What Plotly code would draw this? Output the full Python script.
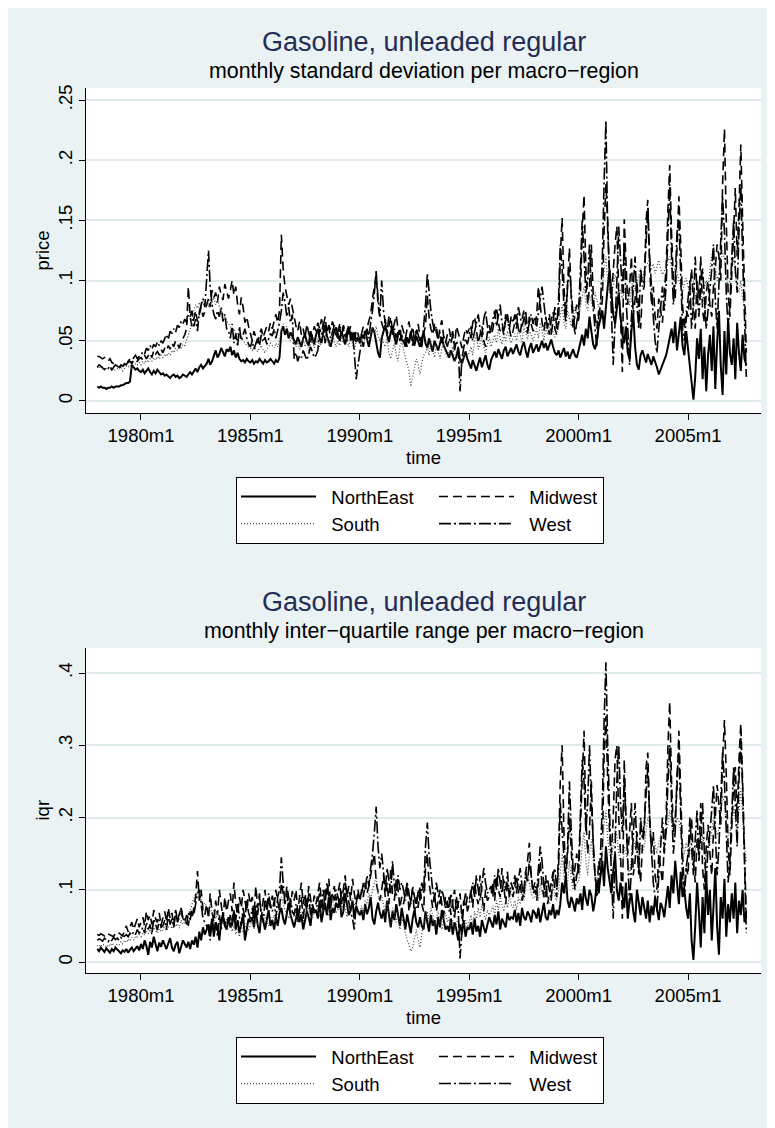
import pandas as pd
import plotly.graph_objects as go

# ---------------- data (monthly, 1978m1 .. 2007m9), values in thousandths ----------------
months = pd.date_range("1978-01-01", "2007-09-01", freq="MS")

x_tick_dates = ["1980-01-01", "1985-01-01", "1990-01-01", "1995-01-01", "2000-01-01", "2005-01-01"]
x_tick_labels = ["1980m1", "1985m1", "1990m1", "1995m1", "2000m1", "2005m1"]
sd_tick_vals = [0, 0.05, 0.10, 0.15, 0.20, 0.25]
sd_tick_labels = ["0", ".05", ".1", ".15", ".2", ".25"]
iqr_tick_vals = [0, 0.1, 0.2, 0.3, 0.4]
iqr_tick_labels = ["0", ".1", ".2", ".3", ".4"]

regions = ["NorthEast", "Midwest", "South", "West"]

sd_northeast = [
    12,11,12,11,11,10,11,11,12,11,12,12,
    12,13,13,14,15,15,16,30,28,26,27,25,
    24,26,23,25,27,24,22,25,23,26,24,22,
    23,21,22,20,19,21,22,20,21,19,20,22,
    21,20,22,24,22,25,27,24,28,30,27,29,
    31,35,30,33,38,42,36,39,44,40,37,43,
    41,45,38,42,36,40,35,33,34,32,35,33,
    32,34,31,33,32,35,33,31,34,32,33,35,
    33,31,34,32,36,58,62,55,60,52,57,54,
    50,47,53,48,45,52,55,49,46,58,51,47,
    55,60,52,48,57,63,54,50,45,52,58,61,
    55,50,58,52,47,54,60,56,51,57,49,53,
    48,55,52,58,50,45,53,61,57,47,40,36,
    52,58,63,55,49,57,61,53,47,55,59,51,
    50,45,53,48,56,51,46,54,49,45,52,57,
    48,44,52,47,41,50,45,42,48,53,46,43,
    40,36,42,38,33,37,44,34,31,36,41,35,
    30,27,34,29,25,31,36,28,33,38,30,26,
    34,38,41,36,43,39,35,42,45,37,40,44,
    39,43,47,41,38,45,49,42,36,44,48,40,
    43,47,41,45,50,44,48,42,46,51,45,40,
    38,42,36,40,44,37,41,35,39,43,38,36,
    42,48,55,46,60,52,70,58,47,43,50,62,
    68,75,60,82,95,109,88,72,64,78,90,70,
    55,48,62,40,35,58,73,45,30,26,38,42,
    36,32,39,34,30,37,33,28,22,26,31,35,
    38,45,52,60,48,66,42,55,70,46,38,58,
    44,30,12,1,20,52,35,60,18,45,8,38,
    55,25,62,10,48,75,30,5,58,22,68,40,
    30,52,18,65,40,25,55,35,30,
]

sd_midwest = [
    37,37,36,35,36,34,33,35,32,31,30,29,
    28,30,29,31,30,32,33,31,34,32,33,35,
    36,34,38,35,37,40,36,42,39,41,38,43,
    40,44,42,46,43,48,45,50,47,44,49,52,
    55,60,95,70,62,68,75,66,72,78,70,74,
    80,85,78,92,86,90,82,95,88,84,97,91,
    85,92,100,88,95,80,72,86,78,65,70,62,
    55,50,58,52,48,55,60,53,57,62,58,65,
    60,68,72,65,75,138,110,95,88,80,85,76,
    70,62,58,66,55,60,52,64,57,49,55,62,
    58,65,60,68,62,70,57,63,59,66,61,55,
    52,60,55,63,58,50,57,62,54,48,59,56,
    50,58,62,55,60,67,72,85,95,105,80,70,
    65,60,68,55,62,70,58,64,71,60,55,63,
    58,52,60,66,55,62,50,57,64,53,48,56,
    62,88,70,60,55,64,58,50,61,67,53,48,
    55,60,52,58,45,62,57,50,44,53,60,56,
    60,52,65,70,58,48,55,62,50,45,57,63,
    55,60,70,78,65,58,62,55,68,72,60,53,
    58,65,72,60,55,68,75,62,56,70,64,58,
    60,72,95,80,65,58,70,62,55,67,74,60,
    55,65,120,152,95,70,100,127,85,60,72,80,
    65,90,140,171,110,80,95,130,88,70,60,75,
    68,85,140,180,150,100,85,110,130,145,90,70,
    24,151,110,80,95,120,70,85,100,75,60,90,
    95,150,167,110,80,95,70,60,85,75,65,90,
    110,160,196,140,100,85,120,170,130,80,60,75,
    70,95,110,80,60,100,85,120,75,65,90,100,
    80,70,95,110,130,120,100,180,226,150,90,70,
    100,140,177,120,160,213,150,90,40,
]

sd_south = [
    28,27,29,28,26,27,28,26,27,25,26,27,
    26,28,25,27,29,28,30,27,29,31,30,32,
    30,33,31,34,32,35,33,36,34,37,35,38,
    36,39,37,40,38,42,40,44,42,45,43,47,
    46,50,55,60,68,75,80,77,82,78,85,80,
    83,78,85,82,86,80,84,78,75,72,70,66,
    64,62,58,60,55,57,52,54,50,48,46,45,
    44,42,45,43,41,44,46,42,40,43,45,48,
    46,44,48,45,50,60,64,58,62,55,50,53,
    48,45,50,43,47,52,45,49,42,46,51,44,
    47,52,45,50,55,48,53,46,51,57,49,45,
    50,46,52,48,55,50,45,53,48,42,50,55,
    48,52,46,55,50,58,53,60,56,62,54,50,
    55,48,45,52,40,35,42,48,38,33,45,50,
    42,36,30,25,12,20,28,35,30,22,32,38,
    40,45,38,50,42,36,46,40,35,43,48,40,
    36,42,38,45,33,40,44,37,30,35,42,38,
    40,45,38,50,55,43,48,52,45,40,47,53,
    45,50,55,48,60,52,47,55,50,58,53,48,
    52,56,50,60,55,48,62,57,51,59,54,50,
    55,60,52,65,58,50,62,55,60,68,57,53,
    56,62,70,80,65,60,75,68,62,70,78,72,
    70,78,85,95,80,75,88,82,76,90,84,78,
    82,95,110,120,100,90,85,95,105,98,88,92,
    85,90,95,88,80,95,100,92,98,105,110,100,
    108,112,115,118,110,114,106,112,117,110,105,108,
    112,115,120,110,105,112,108,100,95,90,98,102,
    95,88,92,100,85,90,98,88,80,95,100,92,
    110,120,128,115,100,105,112,125,118,105,95,100,
    110,120,105,95,90,100,85,80,70,
]

sd_west = [
    28,30,29,27,26,28,27,29,26,28,30,29,
    27,29,28,31,30,33,35,32,36,38,35,37,
    38,41,39,44,42,46,43,47,45,49,46,50,
    48,52,55,51,58,56,60,57,63,61,66,64,
    68,65,72,70,75,62,68,58,74,80,85,78,
    100,125,95,80,72,68,75,70,78,66,72,60,
    58,52,64,48,56,45,62,50,55,60,52,47,
    45,50,43,48,52,46,55,49,53,47,51,56,
    54,60,52,58,65,75,90,82,70,78,65,72,
    35,40,33,38,36,42,37,34,39,45,41,36,
    38,42,60,55,65,48,58,62,52,57,63,55,
    58,64,55,60,52,58,63,50,56,40,18,30,
    42,50,45,55,60,52,65,75,90,108,85,70,
    100,75,65,58,70,62,55,60,52,58,50,55,
    48,52,45,50,58,46,53,60,55,49,44,62,
    80,106,90,75,65,58,62,52,57,48,54,50,
    45,52,48,55,42,50,46,8,35,44,52,47,
    55,62,50,58,66,72,60,53,68,75,62,55,
    60,68,75,62,70,80,65,58,72,66,60,70,
    65,72,60,78,70,62,68,75,58,66,72,64,
    70,62,75,85,95,80,68,60,72,55,65,78,
    60,85,130,110,80,65,95,110,90,70,55,65,
    75,110,150,120,90,100,130,95,75,60,45,70,
    80,120,180,233,140,110,75,30,60,100,145,120,
    90,130,85,60,30,70,100,120,80,60,110,95,
    100,130,160,120,90,70,50,40,60,80,95,75,
    95,140,180,120,80,100,140,150,95,60,50,70,
    85,100,60,80,120,90,70,95,110,85,60,75,
    90,110,130,85,60,100,128,170,140,90,60,80,
    120,150,110,90,140,180,120,60,20,
]

iqr_northeast = [
    18,15,20,17,14,19,16,13,18,15,20,17,
    15,12,16,14,18,13,17,20,15,19,22,16,
    25,18,30,22,10,28,20,35,24,15,27,21,
    30,22,18,26,33,20,15,24,28,12,22,30,
    25,20,28,18,30,24,35,20,42,30,48,38,
    45,52,40,60,35,55,48,30,58,65,50,45,
    62,48,55,70,45,58,40,52,66,30,48,60,
    55,62,48,70,52,40,65,58,45,60,72,50,
    58,45,62,50,68,75,60,52,70,82,65,55,
    48,60,72,55,66,45,58,70,62,50,75,68,
    72,60,85,55,70,80,65,90,58,75,68,82,
    75,88,62,70,95,80,65,72,85,60,78,70,
    65,72,58,80,66,75,90,60,52,70,82,68,
    60,72,55,85,65,48,70,58,80,62,50,75,
    58,45,66,52,40,60,72,55,48,62,50,45,
    70,55,42,65,50,58,38,62,48,72,55,45,
    50,42,60,38,55,45,30,52,40,58,35,48,
    45,55,38,60,42,50,35,58,48,40,52,62,
    55,48,65,52,70,45,60,55,48,68,58,62,
    60,72,55,68,50,75,62,58,70,65,55,72,
    68,60,75,55,70,82,62,58,72,65,80,60,
    72,65,80,110,95,120,85,75,90,82,70,88,
    80,95,72,105,88,78,100,92,70,85,110,95,
    120,140,105,160,130,115,95,125,150,100,85,110,
    90,75,110,60,85,95,70,55,100,80,65,90,
    72,60,85,55,78,65,90,70,58,82,75,62,
    88,105,75,120,95,140,110,80,125,90,100,75,
    60,95,30,3,50,110,70,20,90,40,120,65,
    100,30,75,130,50,10,90,60,115,35,80,55,
    95,60,110,40,85,65,100,55,70,
]

iqr_midwest = [
    38,37,39,38,36,40,39,38,37,35,40,42,
    40,38,36,44,50,42,48,55,45,52,60,48,
    55,62,50,70,58,65,52,72,60,55,68,50,
    62,70,55,75,60,68,50,72,58,66,75,60,
    55,65,50,70,60,75,90,126,85,100,72,65,
    80,60,95,70,55,85,65,100,75,60,90,70,
    85,95,70,110,80,65,90,75,100,85,70,95,
    80,90,65,105,75,95,60,85,100,70,88,75,
    92,78,100,85,70,110,95,80,105,90,75,98,
    85,100,70,90,110,80,95,75,105,88,70,92,
    80,95,110,85,70,100,90,115,80,95,105,85,
    95,110,80,100,120,90,105,85,115,95,80,100,
    85,100,90,110,95,105,120,140,150,110,95,85,
    100,120,90,110,80,130,95,85,115,100,75,90,
    80,95,110,70,85,100,65,90,75,105,80,70,
    130,150,110,90,75,95,70,85,100,80,65,90,
    75,90,65,85,100,70,80,95,60,85,75,90,
    85,100,75,110,90,80,120,95,70,100,85,90,
    95,110,85,120,100,90,130,105,80,110,95,100,
    90,105,120,95,110,85,100,125,140,165,120,95,
    100,85,115,140,105,90,120,80,95,110,125,100,
    90,150,250,300,180,120,150,200,160,110,130,150,
    120,180,260,320,200,150,180,250,160,120,100,140,
    120,160,280,340,250,180,150,200,280,300,200,150,
    60,280,200,150,180,220,120,140,180,150,110,160,
    180,270,290,200,150,180,120,100,150,130,110,160,
    200,300,360,250,180,200,240,320,230,150,100,130,
    120,180,200,140,110,170,150,220,130,100,160,190,
    150,120,180,200,245,220,190,280,335,260,160,120,
    180,250,270,200,280,330,250,150,60,
]

iqr_south = [
    22,24,21,25,23,20,24,22,26,23,21,25,
    24,28,25,30,27,32,29,34,30,36,33,38,
    35,40,37,43,39,45,41,48,44,40,46,42,
    45,50,43,48,52,46,55,49,53,47,58,52,
    55,60,65,72,80,88,95,92,98,85,78,82,
    75,70,80,65,72,60,68,58,62,55,50,45,
    48,55,42,50,38,45,35,52,40,48,55,45,
    50,58,45,62,52,48,60,55,65,58,50,62,
    58,65,55,70,75,90,80,72,68,60,65,70,
    62,70,58,75,65,55,70,62,78,68,60,72,
    68,75,62,80,70,85,72,65,78,90,75,68,
    72,80,68,85,75,62,78,70,88,80,72,65,
    70,78,65,85,80,95,88,100,110,120,95,85,
    90,80,70,85,60,50,75,65,55,70,45,60,
    55,40,30,25,15,20,35,45,30,20,40,50,
    60,70,55,75,65,50,60,70,55,45,60,68,
    55,62,48,58,45,52,60,40,35,50,58,48,
    55,65,50,70,60,75,62,80,68,58,72,65,
    70,78,65,85,72,90,80,70,85,75,92,80,
    75,85,72,90,80,95,85,100,120,110,95,88,
    90,100,85,110,95,88,100,92,80,95,105,90,
    85,100,130,150,120,95,110,140,115,100,120,110,
    110,130,160,180,140,120,150,170,140,120,110,125,
    130,150,190,210,170,150,140,160,185,175,150,140,
    130,160,150,140,120,150,170,160,150,140,165,150,
    160,180,200,190,170,175,160,150,165,175,185,170,
    180,190,210,195,175,185,200,195,180,160,150,165,
    150,160,145,135,155,170,150,165,175,160,145,155,
    165,180,200,190,175,185,210,230,220,195,175,180,
    190,215,200,180,210,240,205,160,140,
]

iqr_west = [
    30,32,31,29,33,30,28,32,30,34,31,33,
    30,34,32,36,38,35,40,37,42,38,45,40,
    42,48,40,55,45,52,38,60,50,44,58,48,
    50,58,45,65,52,60,48,70,55,62,75,58,
    60,52,68,58,72,65,80,95,100,78,60,55,
    50,45,30,60,40,55,35,65,45,70,50,60,
    55,65,48,72,58,80,62,50,75,60,85,68,
    60,75,55,80,65,90,70,55,85,72,95,78,
    70,85,60,90,100,145,110,80,95,75,88,70,
    65,80,55,75,90,60,85,70,95,65,80,72,
    70,85,95,75,100,80,110,90,75,95,85,100,
    90,75,100,85,110,95,80,70,60,45,80,95,
    85,95,110,100,120,105,130,150,180,215,160,130,
    150,120,100,130,110,95,140,105,90,120,100,110,
    100,85,110,95,80,105,90,75,100,85,110,95,
    160,193,150,120,100,85,110,95,80,100,90,75,
    85,70,95,80,60,90,75,5,50,80,95,70,
    80,95,110,90,120,100,85,105,130,110,95,100,
    105,90,120,100,130,110,95,115,100,125,90,110,
    100,120,95,115,130,105,90,125,110,140,115,100,
    110,95,130,160,140,105,90,115,100,85,120,130,
    100,130,220,180,140,110,160,250,180,130,100,120,
    130,200,280,250,180,220,300,220,160,120,90,110,
    150,220,330,415,300,200,120,60,150,250,300,220,
    180,255,200,140,80,130,180,220,160,120,200,170,
    190,230,270,200,150,110,90,70,120,160,200,150,
    180,250,300,220,150,180,260,290,200,120,90,130,
    150,200,160,120,170,210,140,180,220,150,110,160,
    180,210,245,180,120,160,230,290,250,170,110,140,
    200,270,220,160,250,310,240,150,40,
]

sd_series = [sd_northeast, sd_midwest, sd_south, sd_west]
iqr_series = [iqr_northeast, iqr_midwest, iqr_south, iqr_west]
for s in sd_series + iqr_series:
    assert len(s) == len(months), len(s)

# ---------------- styling ----------------
W, H = 767, 1120
BG = "#eaf2f3"
GRID = "#dfeaec"
FONT = "Liberation Sans, Arial, Helvetica, sans-serif"
TITLE_COLOR = "#232d55"
NB = "\u00a0"

styles = {
    "NorthEast": dict(color="black", width=2.0, dash="solid"),
    "Midwest": dict(color="black", width=1.6, dash="9px,5px"),
    "South": dict(color="#444444", width=1.2, dash="1px,2px"),
    "West": dict(color="black", width=1.6, dash="12px,3px,2px,3px"),
}
groups = {"NorthEast": "c1", "South": "c1", "Midwest": "c2", "West": "c2"}
legend_label = {
    "NorthEast": NB * 2 + "NorthEast" + NB * 3,
    "Midwest": NB * 2 + "Midwest",
    "South": NB * 2 + "South",
    "West": NB * 2 + "West",
}

fig = go.Figure()
for panel, (series, xa, ya, lg) in enumerate(
        [(sd_series, "x", "y", "legend"), (iqr_series, "x2", "y2", "legend2")]):
    for name, vals in zip(regions, series):
        fig.add_trace(go.Scatter(
            x=months, y=[v / 1000 for v in vals], mode="lines", name=legend_label[name],
            line=styles[name], xaxis=xa, yaxis=ya, legend=lg,
            legendgroup=groups[name] + str(panel), hoverinfo="skip",
        ))

def px_to_paper_y(py):
    return (H - py) / H

L, R = 78, 14
plot_w = W - L - R

xaxis_common = dict(
    type="date", range=["1977-06-27", "2008-05-03"],
    tickmode="array", tickvals=x_tick_dates, ticktext=x_tick_labels,
    showgrid=False, zeroline=False, showline=True, linecolor="black", linewidth=1,
    ticks="outside", ticklen=6, tickcolor="black", tickwidth=1,
    tickfont=dict(size=18.5, color="black", family=FONT), automargin=False,
)
yaxis_common = dict(
    showgrid=True, gridcolor=GRID, gridwidth=1.5, zeroline=False,
    showline=True, linecolor="black", linewidth=1,
    ticks="outside", ticklen=6, tickcolor="black", tickwidth=1, tickangle=-90,
    tickfont=dict(size=18.5, color="black", family=FONT), automargin=False,
    tickmode="array",
)

fig.update_layout(
    width=W, height=H,
    margin=dict(l=L, r=R, t=0, b=0, pad=0),
    paper_bgcolor=BG, plot_bgcolor="white",
    font=dict(family=FONT, color="black"),
    showlegend=True,
    xaxis=dict(domain=[0, 1], anchor="y", **xaxis_common),
    yaxis=dict(domain=[px_to_paper_y(405), px_to_paper_y(80)], anchor="x",
               range=[-0.01, 0.26], tickvals=sd_tick_vals, ticktext=sd_tick_labels,
               **yaxis_common),
    xaxis2=dict(domain=[0, 1], anchor="y2", **xaxis_common),
    yaxis2=dict(domain=[px_to_paper_y(965), px_to_paper_y(640)], anchor="x2",
                range=[-0.0152, 0.4346], tickvals=iqr_tick_vals, ticktext=iqr_tick_labels,
                **yaxis_common),
)

legend_common = dict(
    orientation="h", traceorder="grouped", xanchor="left", yanchor="top",
    bgcolor="white", bordercolor="black", borderwidth=1,
    font=dict(size=18.5, color="black", family=FONT),
    itemwidth=75, tracegroupgap=0, itemclick=False, itemdoubleclick=False,
)
fig.update_layout(
    legend=dict(x=(228 - L) / plot_w, y=px_to_paper_y(469), **legend_common),
    legend2=dict(x=(228 - L) / plot_w, y=px_to_paper_y(1029), **legend_common),
)

annotations = []
for title_y, sub_y, subtitle in [(34, 63, "monthly standard deviation per macro\u2212region"),
                                 (594, 623, "monthly inter\u2212quartile range per macro\u2212region")]:
    annotations.append(dict(text="Gasoline, unleaded regular", x=0.5, y=px_to_paper_y(title_y),
                            xref="paper", yref="paper", showarrow=False, yanchor="middle",
                            font=dict(size=27, color=TITLE_COLOR, family=FONT)))
    annotations.append(dict(text=subtitle, x=0.5, y=px_to_paper_y(sub_y),
                            xref="paper", yref="paper", showarrow=False, yanchor="middle",
                            font=dict(size=21.4, color="black", family=FONT)))
for label, ymid, xlab_y in [("price", (80 + 405) / 2, 449), ("iqr", (640 + 965) / 2, 1009)]:
    annotations.append(dict(text=label, x=(34 - L) / plot_w, y=px_to_paper_y(ymid),
                            xref="paper", yref="paper", showarrow=False, textangle=-90,
                            xanchor="center", yanchor="middle",
                            font=dict(size=18.5, color="black", family=FONT)))
    annotations.append(dict(text="time", x=0.5, y=px_to_paper_y(xlab_y),
                            xref="paper", yref="paper", showarrow=False,
                            xanchor="center", yanchor="middle",
                            font=dict(size=18.5, color="black", family=FONT)))
fig.update_layout(annotations=annotations)

fig.write_html("out.html", config={"displayModeBar": False})
